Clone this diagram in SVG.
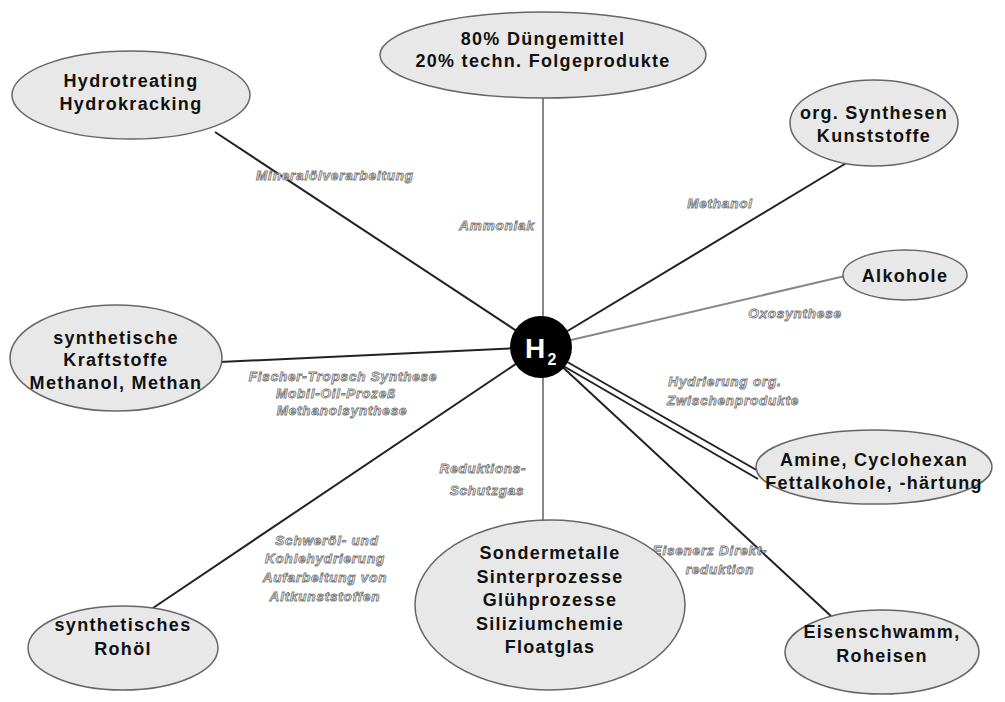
<svg xmlns="http://www.w3.org/2000/svg" width="1005" height="702" viewBox="0 0 1005 702">
<style>
.n{fill:#e8e8e8;stroke:#666;stroke-width:1.5}
.t{font-family:"Liberation Sans",Arial,sans-serif;font-weight:bold;font-size:18px;letter-spacing:1.3px;fill:#111;text-anchor:middle}
.l{font-family:"Liberation Sans",Arial,sans-serif;font-style:italic;font-weight:bold;font-size:13.5px;letter-spacing:0.8px;fill:#fff;stroke:#7a7a7a;stroke-width:0.9;text-anchor:middle}
.c{stroke:#222;stroke-width:2;fill:none}
.g{stroke:#888;stroke-width:2;fill:none}
</style>
<rect width="1005" height="702" fill="#fff"/>
<g id="connectors">
<line class="c" x1="215" y1="132" x2="541" y2="347"/>
<line class="g" x1="543" y1="98" x2="543" y2="347" stroke-width="2.5"/>
<line class="c" x1="848" y1="162" x2="541" y2="347"/>
<line class="g" x1="845" y1="276" x2="541" y2="347"/>
<line class="c" x1="220" y1="362" x2="541" y2="347"/>
<line class="c" x1="541" y1="347" x2="760" y2="472"/>
<line class="c" x1="541" y1="353" x2="758" y2="479" stroke="#555"/>
<line class="g" x1="543" y1="347" x2="543" y2="522" stroke-width="2.5" stroke="#666"/>
<line class="c" x1="150" y1="610" x2="541" y2="347"/>
<line class="c" x1="541" y1="347" x2="832" y2="617"/>
</g>
<g id="labels">
<text class="l" x="335" y="180">Mineralölverarbeitung</text>
<text class="l" x="497" y="230">Ammoniak</text>
<text class="l" x="720" y="208">Methanol</text>
<text class="l" x="795" y="318">Oxosynthese</text>
<text class="l" x="343" y="381">Fischer-Tropsch Synthese</text>
<text class="l" x="336" y="398">Mobil-Oil-Prozeß</text>
<text class="l" x="342" y="415">Methanolsynthese</text>
<text class="l" x="725" y="386">Hydrierung org.</text>
<text class="l" x="733" y="405">Zwischenprodukte</text>
<text class="l" x="483" y="473">Reduktions-</text>
<text class="l" x="487" y="495">Schutzgas</text>
<text class="l" x="327" y="545">Schweröl- und</text>
<text class="l" x="325" y="563">Kohlehydrierung</text>
<text class="l" x="325" y="582">Aufarbeitung von</text>
<text class="l" x="325" y="601">Altkunststoffen</text>
<text class="l" x="710" y="555">Eisenerz Direkt-</text>
<text class="l" x="720" y="574">reduktion</text>
</g>
<g id="h2">
<circle cx="541" cy="347" r="31" fill="#000"/>
<text x="535" y="358" font-family="Liberation Sans,Arial,sans-serif" font-weight="bold" font-size="28" fill="#fff" text-anchor="middle">H</text>
<text x="552" y="365" font-family="Liberation Sans,Arial,sans-serif" font-weight="bold" font-size="16" fill="#fff" text-anchor="middle">2</text>
</g>
<g id="n-top">
<ellipse class="n" cx="543" cy="55" rx="163" ry="43"/>
<text class="t" x="543" y="45">80% Düngemittel</text>
<text class="t" x="543" y="67">20% techn. Folgeprodukte</text>
</g>
<g id="n-hydro">
<ellipse class="n" cx="131" cy="95" rx="119" ry="44"/>
<text class="t" x="131" y="87">Hydrotreating</text>
<text class="t" x="131" y="110">Hydrokracking</text>
</g>
<g id="n-org">
<ellipse class="n" cx="874" cy="123" rx="84" ry="43"/>
<text class="t" x="874" y="119">org. Synthesen</text>
<text class="t" x="874" y="142">Kunststoffe</text>
</g>
<g id="n-alk">
<ellipse class="n" cx="905" cy="275" rx="62" ry="25"/>
<text class="t" x="905" y="282">Alkohole</text>
</g>
<g id="n-kraft">
<ellipse class="n" cx="116" cy="358" rx="106" ry="53"/>
<text class="t" x="116" y="344">synthetische</text>
<text class="t" x="116" y="366">Kraftstoffe</text>
<text class="t" x="116" y="389">Methanol, Methan</text>
</g>
<g id="n-amine">
<ellipse class="n" cx="874" cy="467" rx="118" ry="37"/>
<text class="t" x="874" y="466">Amine, Cyclohexan</text>
<text class="t" x="874" y="489">Fettalkohole, -härtung</text>
</g>
<g id="n-sonder">
<ellipse class="n" cx="550" cy="605" rx="135" ry="85"/>
<text class="t" x="550" y="559">Sondermetalle</text>
<text class="t" x="550" y="583">Sinterprozesse</text>
<text class="t" x="550" y="606">Glühprozesse</text>
<text class="t" x="550" y="630">Siliziumchemie</text>
<text class="t" x="550" y="653">Floatglas</text>
</g>
<g id="n-rohoel">
<ellipse class="n" cx="123" cy="648" rx="95" ry="42"/>
<text class="t" x="123" y="631">synthetisches</text>
<text class="t" x="123" y="655">Rohöl</text>
</g>
<g id="n-eisen">
<ellipse class="n" cx="882" cy="652" rx="97" ry="42"/>
<text class="t" x="882" y="638">Eisenschwamm,</text>
<text class="t" x="882" y="662">Roheisen</text>
</g>
</svg>
